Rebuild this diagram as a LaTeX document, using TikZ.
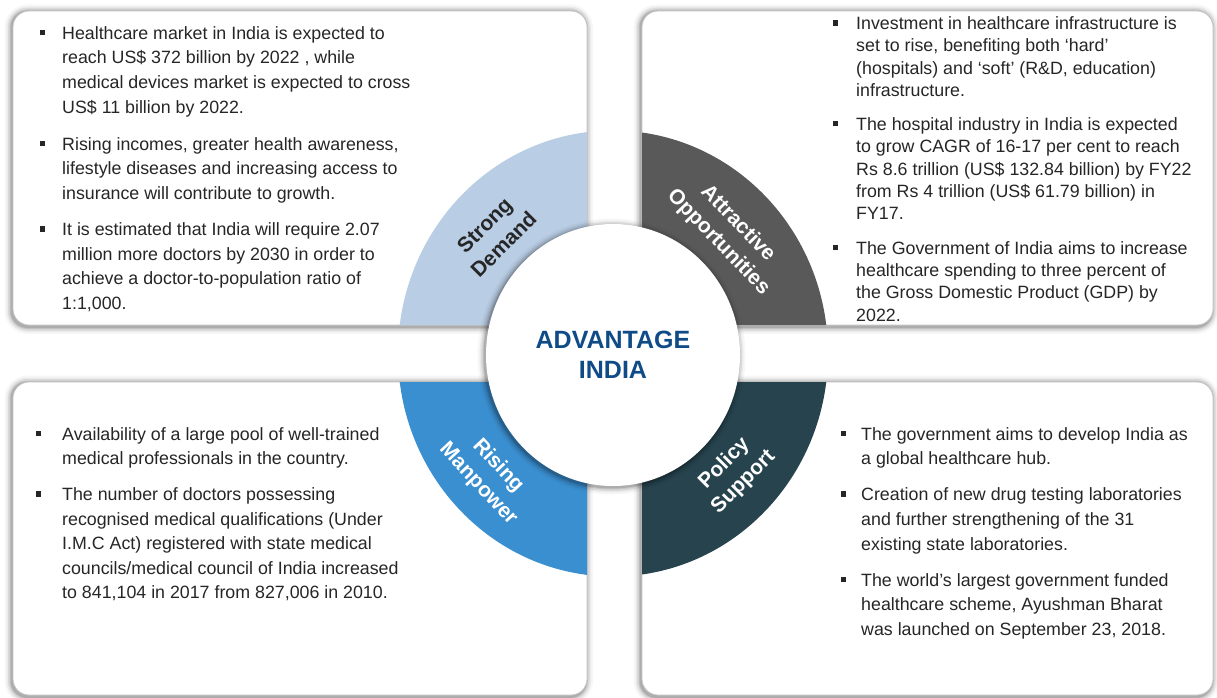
\documentclass[tikz,border=0pt]{standalone}
\usepackage{fontspec}
\setmainfont{Liberation Sans}
\setsansfont{Liberation Sans}
\definecolor{qa}{HTML}{B9CDE4}
\definecolor{qb}{HTML}{595959}
\definecolor{qc}{HTML}{3A8FD0}
\definecolor{qd}{HTML}{27444E}
\definecolor{txtc}{HTML}{262626}
\definecolor{navy}{HTML}{0F4C87}
\definecolor{edge}{HTML}{C4C4C4}
\newcommand\bul[1][17pt]{\makebox[0pt][r]{\textcolor{txtc}{\rule[4pt]{5pt}{5.5pt}}\hspace{#1}}}
\newcommand\fst{\rule{0pt}{18pt}}
\newcommand\softshadow[4]{%
  \foreach \s/\o in {7/0.03,5/0.05,3.5/0.07,2/0.09,1/0.12}{%
    \pgfmathsetmacro\rr{16+\s}%
    \fill[black,opacity=\o,rounded corners=\rr pt] ({#1-\s-1.5},{#2-\s+0.5}) rectangle ({#3+\s-1},{#4+\s+2});}}
\begin{document}
\begin{tikzpicture}[x=1pt,y=-1pt,
  boxfill/.style={fill=white, draw=edge, line width=0.8pt, rounded corners=16pt},
  bodyA/.style={anchor=north west, align=left, inner sep=0pt, text=txtc, font=\fontsize{17.8}{24.6}\selectfont},
  bodyB/.style={anchor=north west, align=left, inner sep=0pt, text=txtc, font=\fontsize{17.8}{22.3}\selectfont},
  lab/.style={font=\bfseries\fontsize{21}{27}\selectfont, align=center, inner sep=0pt},
]
\useasboundingbox[fill=white] (0,0) rectangle (1217,698);
\coordinate (c) at (613,353.5);
\coordinate (ci) at (613,355);
% shadows
\softshadow{13}{11}{587}{325}
\softshadow{642}{11}{1213}{325}
\softshadow{13}{382}{587}{695}
\softshadow{642}{382}{1213}{695}
% boxes
\path[boxfill] (13,11) rectangle (587,325);
\path[boxfill] (642,11) rectangle (1213,325);
\path[boxfill] (13,382) rectangle (587,695);
\path[boxfill] (642,382) rectangle (1213,695);
% ring quadrants
\begin{scope}\clip[rounded corners=16pt] (13,11) rectangle (587,325); \fill[qa] (c) ellipse (215 and 223);\end{scope}
\begin{scope}\clip[rounded corners=16pt] (642,11) rectangle (1213,325); \fill[qb] (c) ellipse (215 and 223);\end{scope}
\begin{scope}\clip[rounded corners=16pt] (13,382) rectangle (587,695); \fill[qc] (c) ellipse (215 and 223);\end{scope}
\begin{scope}\clip[rounded corners=16pt] (642,382) rectangle (1213,695); \fill[qd] (c) ellipse (215 and 223);\end{scope}
% inner circle
\foreach \s/\o in {7/0.03,5/0.05,3.5/0.07,2/0.09,1/0.12}{%
  \fill[black,opacity=\o] (611.5,356.5) ellipse ({127+\s} and {131+\s});}
\fill[white] (ci) ellipse (127 and 131);
% ring labels
\node[lab, rotate=45, text=txtc] (sd) at (494,235) {Strong\\Demand};
\node[lab, rotate=-46, text=white] (ao) at (728,233) {Attractive\\Opportunities};
\node[lab, rotate=-47, text=white] (rm) at (488,475) {Rising\\Manpower};
\node[lab, rotate=45, text=white] (ps) at (734,473) {Policy\\Support};
% centre
\node[font=\bfseries\fontsize{25}{30}\selectfont, text=navy, align=center, inner sep=0pt] (adv) at (613,355) {ADVANTAGE\\INDIA};
% texts
\node[bodyA] (tlt) at (62,21) {\fst\bul[17.5pt]Healthcare market in India is expected to\\
reach US\$ 372 billion by 2022 , while\\
medical devices market is expected to cross\\
US\$ 11 billion by 2022.\\[12.4pt]
\bul[17.5pt]Rising incomes, greater health awareness,\\
lifestyle diseases and increasing access to\\
insurance will contribute to growth.\\[11.8pt]
\bul[17.5pt]It is estimated that India will require 2.07\\
million more doctors by 2030 in order to\\
achieve a doctor-to-population ratio of\\
1:1,000.};
\node[bodyB] (trt) at (856,11.3) {\fst\bul[18.5pt]Investment in healthcare infrastructure is\\
set to rise, benefiting both ‘hard’\\
(hospitals) and ‘soft’ (R\&D, education)\\
infrastructure.\\[11.7pt]
\bul[18.5pt]The hospital industry in India is expected\\
to grow CAGR of 16-17 per cent to reach\\
Rs 8.6 trillion (US\$ 132.84 billion) by FY22\\
from Rs 4 trillion (US\$ 61.79 billion) in\\
FY17.\\[12.4pt]
\bul[18.5pt]The Government of India aims to increase\\
healthcare spending to three percent of\\
the Gross Domestic Product (GDP) by\\
2022.};
\node[bodyA] (blt) at (62,422) {\fst\bul[21.5pt]Availability of a large pool of well-trained\\
medical professionals in the country.\\[11.1pt]
\bul[21.5pt]The number of doctors possessing\\
recognised medical qualifications (Under\\
I.M.C Act) registered with state medical\\
councils/medical council of India increased\\
to 841,104 in 2017 from 827,006 in 2010.};
\node[bodyA] (brt) at (861,422) {\fst\bul[15.5pt]The government aims to develop India as\\
a global healthcare hub.\\[11.4pt]
\bul[15.5pt]Creation of new drug testing laboratories\\
and further strengthening of the 31\\
existing state laboratories.\\[11.4pt]
\bul[15.5pt]The world’s largest government funded\\
healthcare scheme, Ayushman Bharat\\
was launched on September 23, 2018.};
\end{tikzpicture}
\end{document}
